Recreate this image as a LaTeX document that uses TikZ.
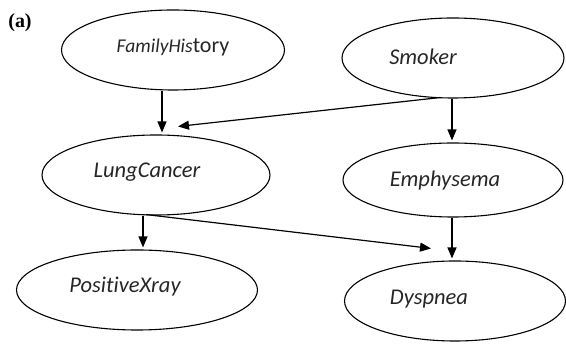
\documentclass[tikz,border=0pt]{standalone}
\usepackage{fontspec}
\setmainfont{Carlito}[Ligatures=CommonOff]
\newfontfamily\panelfont{Liberation Serif}
\usetikzlibrary{shapes.geometric,arrows.meta}
\begin{document}
\begin{tikzpicture}[x=1pt,y=-1pt,
  var/.style={draw, ellipse, line width=1.1pt, inner sep=0pt,
    minimum width=222pt, minimum height=80pt},
  vname/.style={font=\fontsize{22.5}{26}\selectfont\itshape, text=black!85},
  link/.style={line width=1.2pt, -{Triangle[length=11pt,width=9pt]}}]
\useasboundingbox (0,0) rectangle (566,344);

% panel letter
\node[font=\panelfont\bfseries\fontsize{20}{22}\selectfont] (panel) at (20,23) {(a)};

% variables of the network
\node[var, minimum width=223pt] (fh) at (173,50) {};
\node[vname] (fhname) at (173,47)
  {{\fontsize{19.5}{24}\selectfont FamilyHis}{\upshape\fontsize{22}{26}\selectfont tory}};
\node[var] (sm) at (453,58) {};
\node[vname] (smname) at (423,57) {Smoker};
\node[var, minimum width=228pt] (lc) at (156,175) {};
\node[vname] (lcname) at (147,172) {LungCancer};
\node[var, minimum width=220pt, minimum height=74pt] (em) at (453,180) {};
\node[vname] (emname) at (445,181) {Emphysema};
\node[var, minimum width=241pt] (px) at (137,290) {};
\node[vname] (pxname) at (125,287) {PositiveXray};
\node[var, minimum width=221pt] (dy) at (455,301) {};
\node[vname] (dyname) at (429,299) {Dyspnea};

% dependencies
\draw[link] ([xshift=-11pt]fh.south) -- ([xshift=6pt,yshift=2pt]lc.north);
\draw[link] ([xshift=-13pt,yshift=1pt]sm.south) -- ([xshift=22pt,yshift=8pt]lc.north);
\draw[link] ([xshift=-1pt]sm.south) -- ([xshift=-1pt,yshift=2pt]em.north);
\draw[link] ([xshift=-13pt]lc.south) -- ([xshift=6pt,yshift=2pt]px.north);
\draw[link] ([xshift=-10pt,yshift=1pt]lc.south) -- ([xshift=-24pt,yshift=12pt]dy.north);
\draw[link] ([xshift=-1pt]em.south) -- ([xshift=-3pt,yshift=2pt]dy.north);
\end{tikzpicture}
\end{document}
